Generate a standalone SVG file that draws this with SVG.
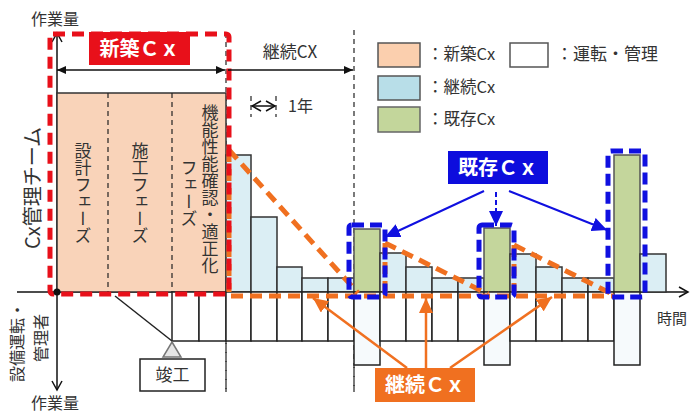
<svg xmlns="http://www.w3.org/2000/svg" width="690" height="414" viewBox="0 0 690 414">
<style>
  text { font-family: "Noto Sans CJK JP", "Noto Sans", sans-serif; fill: #333; }
  .bl { fill: #dbeef4; stroke: #333; stroke-width: 1.5; }
  .gr { fill: #c4d69c; stroke: #555; stroke-width: 1.5; }
  .op { fill: #ffffff; stroke: #222; stroke-width: 1.5; }
  .opt { fill: #f6fafc; stroke: #222; stroke-width: 1.5; }
  .dash { stroke: #222; stroke-width: 1.2; stroke-dasharray: 5 4; fill: none; }
  .red { fill: none; stroke: #e8101a; stroke-width: 5; stroke-dasharray: 12 7; }
  .blu { fill: none; stroke: #1010e0; stroke-width: 5; stroke-dasharray: 12 6; }
  .org { fill: none; stroke: #f07020; stroke-width: 5; stroke-dasharray: 12 7; }
  .lbl { fill: #fff; font-weight: bold; font-size: 20px; }
  .vt { writing-mode: vertical-rl; font-size: 17px; text-anchor: middle; }
</style>
<defs>
  <marker id="ab" markerUnits="userSpaceOnUse" markerWidth="10" markerHeight="10" refX="9" refY="5" orient="auto-start-reverse">
    <path d="M0,1 L9,5 L0,9 Z" fill="#111"/>
  </marker>
  <marker id="ao" markerUnits="userSpaceOnUse" markerWidth="12" markerHeight="12" refX="10" refY="6" orient="auto-start-reverse">
    <path d="M1,1 L10,6 L1,11" fill="none" stroke="#111" stroke-width="1.5"/>
  </marker>
  <marker id="abl" markerUnits="userSpaceOnUse" markerWidth="16" markerHeight="14" refX="15" refY="7" orient="auto">
    <path d="M0,0 L15,7 L0,14 Z" fill="#1010e0"/>
  </marker>
  <marker id="aor" markerUnits="userSpaceOnUse" markerWidth="16" markerHeight="14" refX="15" refY="7" orient="auto">
    <path d="M0,0 L15,7 L0,14 Z" fill="#f07020"/>
  </marker>
</defs>

<!-- axes -->
<g id="axes">
  <line x1="57" y1="33" x2="57" y2="390" stroke="#111" stroke-width="1.5" marker-start="url(#ao)" marker-end="url(#ao)"/>
  <line x1="17" y1="292" x2="688" y2="292" stroke="#111" stroke-width="1.5" marker-end="url(#ao)"/>
  <text x="55" y="25" font-size="16" text-anchor="middle">作業量</text>
  <text x="55" y="409" font-size="16" text-anchor="middle">作業量</text>
  <text x="672" y="324" font-size="15" text-anchor="middle">時間</text>
  <text transform="translate(31,188) rotate(-90)" font-size="20" text-anchor="middle" dominant-baseline="central">Cx管理チーム</text>
  <text transform="translate(16,342) rotate(-90)" font-size="16" text-anchor="middle" dominant-baseline="central">設備運転・</text>
  <text transform="translate(40,338) rotate(-90)" font-size="16" text-anchor="middle" dominant-baseline="central">管理者</text>
</g>

<!-- dashed guide lines -->
<g id="guides">
  <line class="dash" x1="226" y1="33" x2="226" y2="392"/>
  <line class="dash" x1="354" y1="30" x2="354" y2="392"/>
</g>

<!-- new construction phase -->
<g id="phase">
  <rect x="57" y="93" width="169" height="199" fill="#f9d3b9" stroke="#333" stroke-width="1.5"/>
  <line class="dash" x1="108" y1="93" x2="108" y2="292"/>
  <line class="dash" x1="172" y1="93" x2="172" y2="292"/>
  <text class="vt" x="83" y="193">設計フェーズ</text>
  <text class="vt" x="140" y="193">施工フェーズ</text>
  <text class="vt" x="210" y="189">機能性能確認・適正化</text>
  <text class="vt" x="189" y="193">フェーズ</text>
</g>

<!-- bars -->
<g id="bars">
  <rect class="bl" x="226" y="155" width="25" height="137"/>
  <rect class="bl" x="251" y="217" width="26" height="75"/>
  <rect class="bl" x="277" y="267" width="25" height="25"/>
  <rect class="bl" x="302" y="278" width="26" height="14"/>
  <rect class="bl" x="328" y="278" width="26" height="14"/>
  <rect class="gr" x="354" y="229" width="26" height="63"/>
  <rect class="bl" x="380" y="253" width="26" height="39"/>
  <rect class="bl" x="406" y="267" width="26" height="25"/>
  <rect class="bl" x="432" y="278" width="26" height="14"/>
  <rect class="bl" x="458" y="278" width="26" height="14"/>
  <rect class="gr" x="484" y="228" width="26" height="64"/>
  <rect class="bl" x="510" y="254" width="26" height="38"/>
  <rect class="bl" x="536" y="267" width="26" height="25"/>
  <rect class="bl" x="562" y="278" width="26" height="14"/>
  <rect class="bl" x="588" y="278" width="26" height="14"/>
  <rect class="gr" x="614" y="155" width="26" height="137"/>
  <rect class="bl" x="640" y="254" width="26" height="38"/>
</g>

<!-- operation / management -->
<g id="operation">
  <rect class="op" x="172" y="292" width="27" height="49"/>
  <rect class="op" x="199" y="292" width="27" height="49"/>
  <rect class="op" x="226" y="292" width="25" height="49"/>
  <rect class="op" x="251" y="292" width="26" height="49"/>
  <rect class="op" x="277" y="292" width="25" height="49"/>
  <rect class="op" x="302" y="292" width="26" height="49"/>
  <rect class="op" x="328" y="292" width="26" height="49"/>
  <rect class="opt" x="354" y="292" width="26" height="73"/>
  <rect class="op" x="380" y="292" width="26" height="49"/>
  <rect class="op" x="406" y="292" width="26" height="49"/>
  <rect class="op" x="432" y="292" width="26" height="49"/>
  <rect class="op" x="458" y="292" width="26" height="49"/>
  <rect class="opt" x="484" y="292" width="26" height="73"/>
  <rect class="op" x="510" y="292" width="26" height="49"/>
  <rect class="op" x="536" y="292" width="26" height="49"/>
  <rect class="op" x="562" y="292" width="26" height="49"/>
  <rect class="op" x="588" y="292" width="26" height="49"/>
  <rect class="opt" x="614" y="292" width="26" height="73"/>
  <line class="dash" x1="226" y1="343" x2="226" y2="392"/>
  <line class="dash" x1="354" y1="367" x2="354" y2="392"/>
</g>

<!-- completion marker -->
<g id="completion">
  <line x1="115" y1="296" x2="172" y2="341" stroke="#222" stroke-width="1.5"/>
  <path d="M172,342 L181,357 L163,357 Z" fill="#e6e6e6" stroke="#777" stroke-width="1.5"/>
  <rect x="140" y="359" width="65" height="32" fill="#fff" stroke="#222" stroke-width="1.5"/>
  <text x="172.5" y="381" font-size="17" text-anchor="middle">竣工</text>
</g>

<!-- continuous Cx triangles -->
<g id="continuous-outline">
  <polyline class="org" points="229,150 358,293"/>
  <polyline class="org" points="229,150 229,292"/>
  <polyline class="org" points="385,243 488,294"/>
  <polyline class="org" points="385,243 385,292"/>
  <polyline class="org" points="514,245 612,294"/>
  <polyline class="org" points="514,245 514,292"/>
  <line class="org" x1="231" y1="296" x2="614" y2="296"/>
</g>

<!-- new construction Cx box -->
<g id="new-cx">
  <rect class="red" x="50" y="34" width="179" height="260" rx="3"/>
  <rect x="89" y="32" width="101" height="33" fill="#e8101a"/>
  <text class="lbl" x="139.5" y="56" text-anchor="middle">新築Ｃｘ</text>
</g>

<!-- existing Cx boxes -->
<g id="existing-cx">
  <rect class="blu" x="349" y="225" width="36" height="72" rx="3"/>
  <rect class="blu" x="479" y="225" width="35" height="72" rx="3"/>
  <rect class="blu" x="608" y="151" width="37" height="146" rx="3"/>
  <rect x="448" y="151" width="100" height="33" fill="#0d0ddd"/>
  <text class="lbl" x="498" y="175" text-anchor="middle">既存Ｃｘ</text>
</g>

<!-- continuous Cx label -->
<g id="cont-cx">
  <rect x="375" y="368" width="100" height="34" fill="#f07020"/>
  <text class="lbl" x="425" y="392" text-anchor="middle">継続Ｃｘ</text>
</g>

<!-- dimension -->
<g id="dimension">
  <line x1="57" y1="70" x2="225" y2="70" stroke="#111" stroke-width="1.5" marker-start="url(#ab)" marker-end="url(#ab)"/>
  <line x1="228" y1="70" x2="353" y2="70" stroke="#111" stroke-width="1.5" marker-end="url(#ab)"/>
  <text x="290" y="58" font-size="17" text-anchor="middle">継続CX</text>
  <line class="dash" x1="251" y1="96" x2="251" y2="117"/>
  <line class="dash" x1="276" y1="96" x2="276" y2="117"/>
  <line x1="252" y1="106" x2="275" y2="106" stroke="#111" stroke-width="1.5" marker-start="url(#ao)" marker-end="url(#ao)"/>
  <text x="288" y="112" font-size="16">1年</text>
</g>

<!-- legend -->
<g id="legend">
  <rect x="378" y="43" width="42" height="24" fill="#fbcfae" stroke="#555" stroke-width="1.5"/>
  <text x="427" y="60" font-size="16.5">：新築Cx</text>
  <rect x="510" y="43" width="38" height="24" fill="#fff" stroke="#555" stroke-width="1.5"/>
  <text x="556" y="60" font-size="17">：運転・管理</text>
  <rect x="378" y="76" width="42" height="24" fill="#b8dee8" stroke="#555" stroke-width="1.5"/>
  <text x="427" y="93" font-size="16.5">：継続Cx</text>
  <rect x="378" y="107" width="42" height="25" fill="#c3d69b" stroke="#666" stroke-width="1.5"/>
  <text x="427" y="125" font-size="16.5">：既存Cx</text>
</g>

<!-- connectors -->
<g id="connectors">
  <line x1="484" y1="191" x2="385" y2="237" stroke="#1010e0" stroke-width="2" marker-end="url(#abl)"/>
  <line x1="496" y1="192" x2="496" y2="226" stroke="#1010e0" stroke-width="2" stroke-dasharray="5 3" marker-end="url(#abl)"/>
  <line x1="509" y1="191" x2="607" y2="230" stroke="#1010e0" stroke-width="2" marker-end="url(#abl)"/>
  <line x1="407" y1="368" x2="313" y2="298" stroke="#f07020" stroke-width="2.5" marker-end="url(#aor)"/>
  <line x1="426" y1="368" x2="426" y2="298" stroke="#f07020" stroke-width="2.5" marker-end="url(#aor)"/>
  <line x1="450" y1="368" x2="552" y2="297" stroke="#f07020" stroke-width="2.5" marker-end="url(#aor)"/>
</g>

<circle cx="57" cy="292" r="3.5" fill="#111"/>
</svg>
